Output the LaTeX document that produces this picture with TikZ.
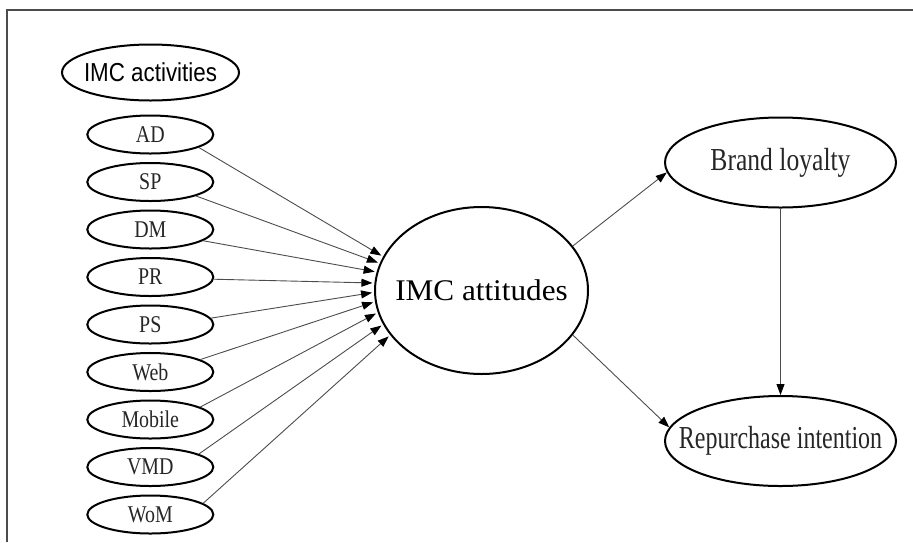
\documentclass[tikz,border=0pt]{standalone}
\usepackage{fontspec}
\setmainfont{Liberation Serif}
\newfontfamily\condserif[FakeStretch=0.8]{Liberation Serif}
\newfontfamily\narrowserif[FakeStretch=0.75]{Liberation Serif}
\newfontfamily\smallserif[FakeStretch=0.83]{Liberation Serif}
\newfontfamily\bigserif[FakeStretch=1.04]{Liberation Serif}
\newfontfamily\condsans[FakeStretch=0.86]{Liberation Sans}
\usetikzlibrary{arrows.meta,shapes.geometric}
\newcommand{\zw}[1]{\makebox[0pt][c]{#1}}
\begin{document}
\begin{tikzpicture}[x=1pt,y=-1pt,
  oval/.style={ellipse, draw=black, line width=2pt, inner sep=0pt, text=black!85},
  smalloval/.style={oval, minimum width=126pt, minimum height=38pt, font=\smallserif\fontsize{24}{24}\selectfont},
  bigoval/.style={oval, minimum width=231pt, minimum height=90pt, font=\condserif\fontsize{32}{32}\selectfont},
  conn/.style={draw=black!70, line width=0.9pt, -{Triangle[length=11pt,width=8pt,color=black]}},
  frameline/.style={draw=black!70, line width=1.5pt}
]
\useasboundingbox (0,0) rectangle (913,542);
\coordinate (fb) at (7,542);
\coordinate (fc) at (7,10);
\coordinate (fr) at (913,10);
\draw[frameline] (fb) -- (fc) -- (fr);

\node[oval, minimum width=177pt, minimum height=56pt, text=black, font=\condsans\fontsize{26}{26}\selectfont] (act) at (150.5,72.5) {\zw{IMC activities}};

\node[smalloval] (ad)  at (150.3,134.5) {\zw{AD}};
\node[smalloval] (sp)  at (150.3,182.0) {\zw{SP}};
\node[smalloval] (dm)  at (150.3,229.5) {\zw{DM}};
\node[smalloval] (pr)  at (150.3,277.0) {\zw{PR}};
\node[smalloval] (ps)  at (150.3,324.5) {\zw{PS}};
\node[smalloval] (web) at (150.3,372.0) {\zw{Web}};
\node[smalloval] (mob) at (150.3,419.5) {\zw{Mobile}};
\node[smalloval] (vmd) at (150.3,467.0) {\zw{VMD}};
\node[smalloval] (wom) at (150.3,514.5) {\zw{WoM}};

\node[oval, minimum width=213pt, minimum height=167pt, text=black, font=\bigserif\fontsize{30}{30}\selectfont] (att) at (481.5,290.5) {\zw{IMC attitudes}};

\node[bigoval] (bl) at (780.5,162.5) {\zw{Brand loyalty}};
\node[bigoval, font=\narrowserif\fontsize{32}{32}\selectfont] (ri) at (780.5,441) {\zw{Repurchase intention}};

\draw[conn, shorten >=2pt] (ad.-15)  -- (att.161);
\draw[conn, shorten >=2pt] (sp.-17)  -- (att.165.6);
\draw[conn, shorten >=2pt] (dm.-12)  -- (att.170.9);
\draw[conn, shorten >=2pt] (pr.-2)   -- (att.176.3);
\draw[conn, shorten >=2pt] (ps.6)    -- (att.181.6);
\draw[conn, shorten >=2pt] (web.14)  -- (att.186.9);
\draw[conn, shorten >=2pt] (mob.14)  -- (att.192.7);
\draw[conn, shorten >=2pt] (vmd.15)  -- (att.199.7);
\draw[conn, shorten >=2pt] (wom.12)  -- (att.206);

\draw[conn] (att.26.7) -- (bl.185);
\draw[conn] (att.-26.7) -- (ri.173);
\draw[conn] (bl) -- (ri);
\end{tikzpicture}
\end{document}
